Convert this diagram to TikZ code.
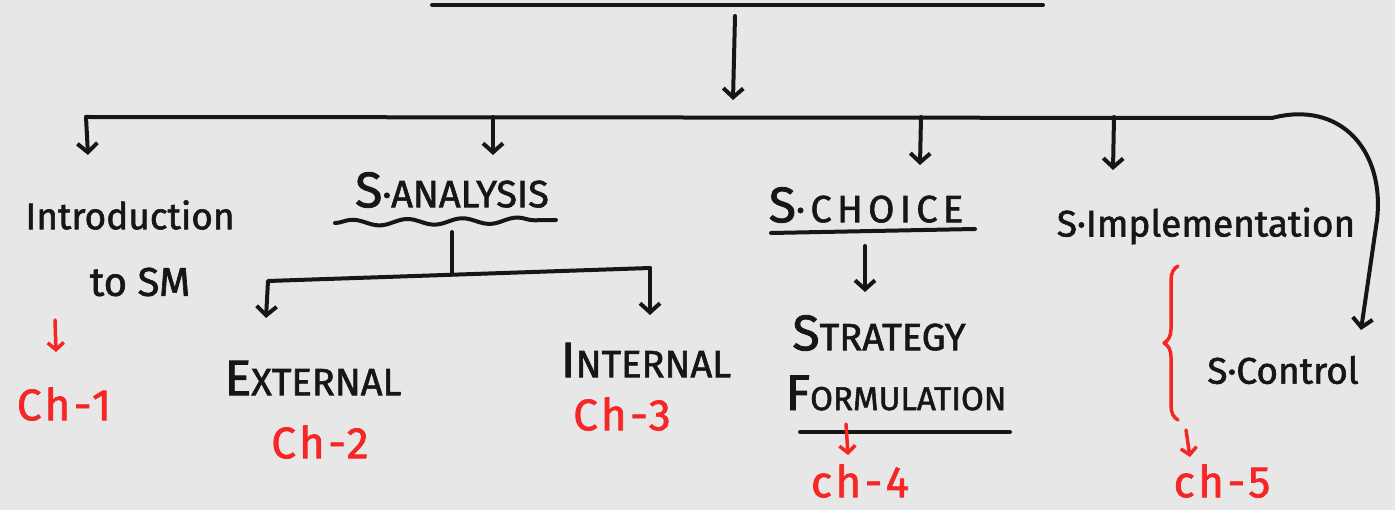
\documentclass[tikz,border=0pt]{standalone}
\usepackage{fontspec}
\setmainfont{Fira Sans}[FakeBold=1.6]
\usetikzlibrary{arrows.meta,decorations.pathmorphing,decorations.pathreplacing}
\definecolor{paper}{RGB}{231,231,231}
\definecolor{ink}{RGB}{22,22,22}
\definecolor{redink}{RGB}{245,38,38}
\newcommand{\initcap}[1]{{\fontsize{50}{54}\selectfont #1}}
\begin{document}
\begin{tikzpicture}[x=1pt,y=-1pt,
  pen/.style={draw=ink, line width=4pt, line cap=round, line join=round},
  drop/.style={pen, -{Straight Barb[length=9pt,width=20pt]}},
  redpen/.style={draw=redink, line width=3.5pt, line cap=round, line join=round},
  reddrop/.style={redpen, -{Straight Barb[length=7pt,width=16pt]}},
  word/.style={text=ink, inner sep=0pt, font=\fontsize{37}{40}\selectfont\addfontfeature{FakeBold=1.6}},
  capsword/.style={text=ink, inner sep=0pt, font=\fontsize{38}{42}\selectfont},
  chap/.style={text=redink, inner sep=0pt, font=\fontsize{44}{48}\selectfont\addfontfeature{LetterSpace=8}},
]
\fill[paper] (0,0) rectangle (1395,510);
\useasboundingbox (0,0) rectangle (1395,510);

% title rule and the arrow down to the main bar
\coordinate (tl) at (432,5);
\coordinate (tr) at (1043,5);
\draw[pen] (tl) -- (tr);
\coordinate (t0) at (735,16);
\coordinate (t1) at (733,100);
\draw[drop] (t0) -- (t1);

% main bar
\coordinate (bL) at (86,117);
\coordinate (bR) at (1272,118);
\draw[pen] (bL) -- (bR);
\coordinate (b2) at (493,117);
\coordinate (b3) at (921,117);
\coordinate (b4) at (1114,117);
\coordinate (a1) at (88,155);
\coordinate (a2) at (493,155);
\coordinate (a3) at (920,165);
\coordinate (a4) at (1113,170);
\coordinate (a5) at (1361,330);
\draw[drop] (bL) -- (a1);
\draw[drop] (b2) -- (a2);
\draw[drop] (b3) -- (a3);
\draw[drop] (b4) -- (a4);
\draw[drop] (bR) .. controls (1340,100) and (1385,150) .. (1377,220) -- (a5);

% introduction
\node[word] (intro1) at (130,215) {Introduction};
\node[word, font=\fontsize{40}{44}\selectfont] (intro2) at (140,282) {to SM};
\coordinate (r1a) at (55,320);
\coordinate (r1b) at (56,352);
\draw[reddrop] (r1a) -- (r1b);
\node[chap] (ch1) at (64,404) {Ch-1};

% analysis
\node[capsword] (anal) at (452,190) {\initcap{S}·ANALYSIS};
\coordinate (w0) at (335,223);
\coordinate (w1) at (556,220);
\draw[pen, decorate, decoration={snake, amplitude=3pt, segment length=55pt}] (w0) -- (w1);
\coordinate (s0) at (452,232);
\coordinate (s1) at (452,273);
\draw[pen] (s0) -- (s1);
\coordinate (kL) at (268,281);
\coordinate (kR) at (650,268);
\coordinate (eA) at (266,318);
\coordinate (iA) at (650,315);
\draw[drop] (kR) -- (kL) -- (eA);
\draw[drop] (kR) -- (iA);
\node[capsword] (ext) at (313,378) {\initcap{E}XTERNAL};
\node[chap] (ch2) at (320,442) {Ch-2};
\node[capsword] (int) at (646,360) {\initcap{I}NTERNAL};
\node[chap] (ch3) at (622,414) {Ch-3};

% choice
\node[capsword, font=\fontsize{38}{42}\selectfont\addfontfeature{LetterSpace=14}] (choice) at (866,205) {\initcap{S}·CHOICE};
\coordinate (u0) at (771,233);
\coordinate (u1) at (975,229);
\draw[pen] (u0) -- (u1);
\coordinate (c0) at (865,246);
\coordinate (c1) at (865,292);
\draw[drop] (c0) -- (c1);
\node[capsword] (strat) at (879,333) {\initcap{S}TRATEGY};
\node[capsword, font=\fontsize{33}{36}\selectfont] (form) at (896,393) {\initcap{F}ORMULATION};
\coordinate (f0) at (800,432);
\coordinate (f1) at (1010,432);
\draw[pen] (f0) -- (f1);
\coordinate (r4a) at (846,424);
\coordinate (r4b) at (848,455);
\draw[reddrop] (r4a) -- (r4b);
\node[chap] (ch4) at (860,481) {ch-4};

% implementation and control
\node[word] (impl) at (1206,226) {S·Implementation};
\coordinate (br0) at (1178,420);
\coordinate (br1) at (1178,266);
\draw[redpen, decorate, decoration={brace, amplitude=14pt}] (br0) -- (br1);
\node[word] (ctrl) at (1283,370) {S·Control};
\coordinate (r5a) at (1186,430);
\coordinate (r5b) at (1190,457);
\draw[reddrop] (r5a) -- (r5b);
\node[chap] (ch5) at (1222,481) {ch-5};
\end{tikzpicture}
\end{document}
